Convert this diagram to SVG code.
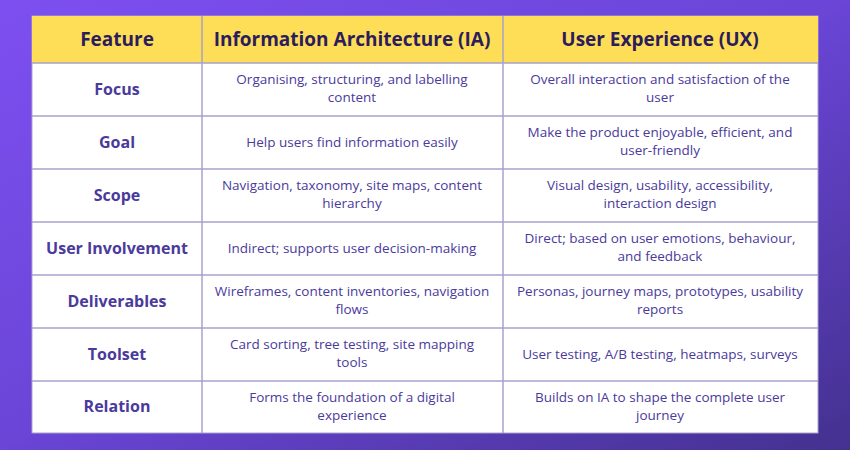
<svg xmlns="http://www.w3.org/2000/svg" width="850" height="450" viewBox="0 0 850 450">
<defs>
<linearGradient id="bg" x1="0" y1="0" x2="1" y2="1">
<stop offset="0" stop-color="#7d4ff0"/><stop offset="0.5" stop-color="#6a45d6"/><stop offset="1" stop-color="#44318f"/>
</linearGradient>
<style>
.h{font-family:"Open Sans","Liberation Sans",sans-serif;font-weight:700;font-size:19px;fill:#2b1c5c;text-anchor:middle}
.r{font-family:"Open Sans","Liberation Sans",sans-serif;font-weight:700;font-size:16px;fill:#4a3a9c;text-anchor:middle}
.c{font-family:"Open Sans","Liberation Sans",sans-serif;font-size:13.5px;fill:#4a3a9c;text-anchor:middle}
.l{stroke:#a9a1cc;stroke-width:1.5}
</style>
</defs>
<rect width="850" height="450" fill="url(#bg)"/>
<rect x="32" y="16" width="786" height="417" fill="#ffffff" stroke="#a9a1cc"/>
<rect x="32" y="16" width="786" height="47" fill="#fedd57"/>
<g id="grid">
<line class="l" x1="32" y1="63" x2="818" y2="63"/>
<line class="l" x1="32" y1="116" x2="818" y2="116"/>
<line class="l" x1="32" y1="169" x2="818" y2="169"/>
<line class="l" x1="32" y1="222" x2="818" y2="222"/>
<line class="l" x1="32" y1="275" x2="818" y2="275"/>
<line class="l" x1="32" y1="328" x2="818" y2="328"/>
<line class="l" x1="32" y1="381" x2="818" y2="381"/>
<line class="l" x1="202" y1="16" x2="202" y2="433"/>
<line class="l" x1="503" y1="16" x2="503" y2="433"/>
</g>
<g id="header">
<text class="h" x="117" y="46">Feature</text>
<text class="h" x="352" y="46">Information Architecture (IA)</text>
<text class="h" x="660" y="46">User Experience (UX)</text>
</g>
<g id="row-focus">
<text class="r" x="117" y="95">Focus</text>
<text class="c" x="352" y="84">Organising, structuring, and labelling</text>
<text class="c" x="352" y="102">content</text>
<text class="c" x="660" y="84">Overall interaction and satisfaction of the</text>
<text class="c" x="660" y="102">user</text>
</g>
<g id="row-goal">
<text class="r" x="117" y="148">Goal</text>
<text class="c" x="352" y="147">Help users find information easily</text>
<text class="c" x="660" y="137">Make the product enjoyable, efficient, and</text>
<text class="c" x="660" y="155">user-friendly</text>
</g>
<g id="row-scope">
<text class="r" x="117" y="201">Scope</text>
<text class="c" x="352" y="190">Navigation, taxonomy, site maps, content</text>
<text class="c" x="352" y="208">hierarchy</text>
<text class="c" x="660" y="190">Visual design, usability, accessibility,</text>
<text class="c" x="660" y="208">interaction design</text>
</g>
<g id="row-user">
<text class="r" x="117" y="254">User Involvement</text>
<text class="c" x="352" y="253">Indirect; supports user decision-making</text>
<text class="c" x="660" y="243">Direct; based on user emotions, behaviour,</text>
<text class="c" x="660" y="261">and feedback</text>
</g>
<g id="row-deliverables">
<text class="r" x="117" y="307">Deliverables</text>
<text class="c" x="352" y="296">Wireframes, content inventories, navigation</text>
<text class="c" x="352" y="314">flows</text>
<text class="c" x="660" y="296">Personas, journey maps, prototypes, usability</text>
<text class="c" x="660" y="314">reports</text>
</g>
<g id="row-toolset">
<text class="r" x="117" y="360">Toolset</text>
<text class="c" x="352" y="349">Card sorting, tree testing, site mapping</text>
<text class="c" x="352" y="367">tools</text>
<text class="c" x="660" y="359">User testing, A/B testing, heatmaps, surveys</text>
</g>
<g id="row-relation">
<text class="r" x="117" y="412">Relation</text>
<text class="c" x="352" y="402">Forms the foundation of a digital</text>
<text class="c" x="352" y="420">experience</text>
<text class="c" x="660" y="402">Builds on IA to shape the complete user</text>
<text class="c" x="660" y="420">journey</text>
</g>
</svg>
